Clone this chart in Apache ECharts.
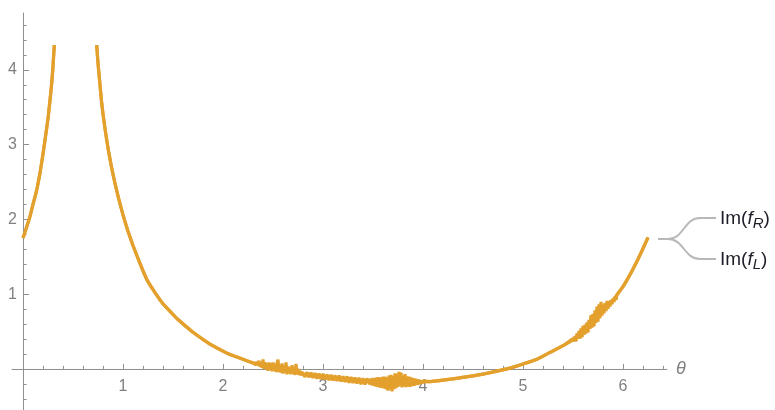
<!DOCTYPE html>
<html><head><meta charset="utf-8">
<script src="https://cdn.jsdelivr.net/npm/echarts@6/dist/echarts.min.js"></script>
<style>html,body{margin:0;padding:0;background:#fff}#c{width:775px;height:410px}</style>
</head><body><div id="c"></div>
<script>
// ---- data ----
const xTicks = [1, 2, 3, 4, 5, 6];
const yTicks = [1, 2, 3, 4];
const xRange = [-0.11, 6.44];
const yRange = [-0.55, 4.76];

// Im(f_R): smooth curve (null = break at the pole)
const thetaR = [0, 0.035, 0.07, 0.10, 0.137, 0.17, 0.195, 0.22, 0.253, 0.287, 0.30, 0.313, 0.525,
  0.737, 0.75, 0.77, 0.785, 0.803, 0.828, 0.853, 0.885, 0.92, 0.96, 1.0, 1.05, 1.1, 1.17, 1.24, 1.32, 1.40, 1.55,
  1.70, 1.87, 2.04, 2.18, 2.30, 2.47, 2.62, 2.77, 3.04, 3.34, 3.6, 3.85, 4.07, 4.37, 4.60, 4.87, 5.0, 5.14, 5.27,
  5.40, 5.50, 5.60, 5.70, 5.80, 5.90, 6.0, 6.07, 6.14, 6.20, 6.25];
const valueR = [1.75, 1.89, 2.04, 2.20, 2.39, 2.62, 2.83, 3.06, 3.38, 3.82, 4.05, 4.33, null,
  4.33, 4.09, 3.80, 3.58, 3.38, 3.14, 2.93, 2.70, 2.48, 2.26, 2.06, 1.84, 1.65, 1.41, 1.19, 1.02, 0.87, 0.66,
  0.49, 0.33, 0.21, 0.14, 0.08, 0.03, -0.015, -0.06, -0.12, -0.16, -0.18, -0.18, -0.17, -0.12, -0.07, 0.01, 0.065, 0.13, 0.22,
  0.31, 0.39, 0.51, 0.64, 0.775, 0.92, 1.10, 1.26, 1.44, 1.61, 1.76];

// Im(f_L): same curve, but numerically noisy in these stretches
const noiseA = [[2.32,0.084],[2.33,0.052],[2.34,0.097],[2.35,0.048],[2.36,0.110],[2.37,0.027],[2.38,0.088],[2.39,0.014],
  [2.40,0.127],[2.41,0.001],[2.42,0.088],[2.43,-0.004],[2.44,0.075],[2.45,-0.025],[2.46,0.087],[2.47,-0.004],[2.48,0.075],
  [2.49,-0.034],[2.50,0.087],[2.51,-0.021],[2.52,0.065],[2.53,-0.043],[2.54,0.078],[2.55,0.123],[2.56,-0.045],[2.57,0.050],
  [2.58,-0.050],[2.59,0.072],[2.60,-0.062],[2.61,0.042],[2.62,-0.050],[2.63,0.088],[2.64,-0.072],[2.65,0.032],[2.66,-0.059],
  [2.67,0.020],[2.68,-0.072],[2.69,0.049],[2.70,-0.059],[2.71,0.011],[2.72,-0.081],[2.73,0.065],[2.74,-0.068],[2.75,0.002],
  [2.76,-0.081],[2.77,-0.028],[2.78,-0.086],[2.79,-0.041],[2.80,-0.073]];
const noiseB = [[2.82,-0.105],[2.84,-0.045],[2.86,-0.112],[2.88,-0.050],[2.90,-0.120],[2.92,-0.055],[2.94,-0.130],[2.96,-0.062],
  [2.98,-0.135],[3.00,-0.066],[3.02,-0.140],[3.04,-0.075],[3.06,-0.150],[3.08,-0.080],[3.10,-0.155],[3.12,-0.088],[3.14,-0.160],
  [3.16,-0.090],[3.18,-0.168],[3.20,-0.098],[3.22,-0.175],[3.24,-0.100],[3.26,-0.185],[3.28,-0.108],[3.30,-0.190],[3.32,-0.115],
  [3.34,-0.195],[3.36,-0.120],[3.38,-0.205],[3.40,-0.125],[3.42,-0.210],[3.44,-0.128]];
const noiseC = [[3.46,-0.125],[3.47,-0.205],[3.48,-0.130],[3.49,-0.220],[3.50,-0.120],[3.51,-0.225],[3.52,-0.125],[3.53,-0.235],
  [3.54,-0.115],[3.55,-0.240],[3.56,-0.110],[3.57,-0.250],[3.58,-0.120],[3.59,-0.255],[3.60,-0.105],[3.61,-0.262],[3.62,-0.105],
  [3.63,-0.270],[3.64,-0.120],[3.65,-0.290],[3.66,-0.090],[3.67,-0.275],[3.68,-0.080],[3.69,-0.300],[3.70,-0.098],[3.71,-0.270],
  [3.72,-0.060],[3.73,-0.258],[3.74,-0.065],[3.75,-0.240],[3.76,-0.040],[3.77,-0.225],[3.78,-0.050],[3.79,-0.248],[3.80,-0.090],
  [3.81,-0.235],[3.82,-0.070],[3.83,-0.245],[3.84,-0.100],[3.85,-0.235],[3.86,-0.105],[3.87,-0.240],[3.88,-0.115],[3.89,-0.230],
  [3.90,-0.125],[3.91,-0.225],[3.92,-0.130],[3.93,-0.215],[3.94,-0.140],[3.95,-0.210],[3.96,-0.145],[3.97,-0.200],[3.98,-0.155],
  [3.99,-0.190],[4.00,-0.160],[4.01,-0.182],[4.02,-0.168]];
const noiseD = [[5.50,0.406],[5.51,0.367],[5.52,0.440],[5.53,0.368],[5.54,0.473],[5.55,0.402],[5.56,0.507],[5.57,0.404],[5.58,0.540],
  [5.59,0.421],[5.60,0.574],[5.61,0.454],[5.62,0.590],[5.63,0.471],[5.64,0.623],[5.65,0.487],[5.66,0.655],[5.67,0.535],[5.68,0.720],
  [5.69,0.552],[5.70,0.736],[5.71,0.568],[5.72,0.784],[5.73,0.615],[5.74,0.832],[5.75,0.631],[5.76,0.863],[5.77,0.679],[5.78,0.895],
  [5.79,0.711],[5.80,0.863],[5.81,0.742],[5.82,0.878],[5.83,0.773],[5.84,0.908],[5.85,0.803],[5.86,0.907],[5.87,0.834],[5.88,0.921],
  [5.89,0.864],[5.90,0.936],[5.91,0.894],[5.92,0.965],[5.93,0.923],[5.94,0.994],[5.95,0.968]];

// ---- build series data ----
const fR = thetaR.map((t, i) => [t, valueR[i]]);
const inNoise = t => (t >= 2.32 && t <= 4.02) || (t >= 5.50 && t <= 5.95);
const fL = fR.filter(p => !inNoise(p[0])).concat(noiseA, noiseB, noiseC, noiseD)
  .sort((a, b) => a[0] - b[0]);

const ORANGE = '#E3A02C';
const AXIS = '#8f8f8f';
const LABEL = '#808080';
const FONT = 'Liberation Sans, Arial, sans-serif';
const TEXT = '#1e1e28';

function legendText(sub, y) {
  return {type: 'text', x: 720, y: y, style: {
    text: '{n|Im(}{i|f}{s|' + sub + '}{n|)}', align: 'left', verticalAlign: 'middle',
    rich: {
      n: {fontSize: 19, fontFamily: FONT, fill: TEXT, lineHeight: 24},
      i: {fontSize: 19, fontFamily: FONT, fontStyle: 'italic', fill: TEXT, lineHeight: 24},
      s: {fontSize: 15, fontFamily: FONT, fontStyle: 'italic', fill: TEXT, lineHeight: 16, verticalAlign: 'bottom'}
    }}};
}

const chart = echarts.init(document.getElementById('c'), null, {renderer: 'canvas'});
chart.setOption({
  animation: false,
  grid: {left: 12, top: 13, width: 655, height: 397, containLabel: false, outerBoundsMode: 'none'},
  xAxis: {
    type: 'value', min: xRange[0], max: xRange[1], splitNumber: 6,
    axisLine: {onZero: true, lineStyle: {color: AXIS, width: 1}},
    axisTick: {inside: true, length: 5, lineStyle: {color: AXIS, width: 1}, customValues: xTicks},
    minorTick: {show: true, splitNumber: 5, length: 3, lineStyle: {color: AXIS, width: 1}},
    axisLabel: {customValues: xTicks, margin: -31, color: LABEL, fontSize: 16, fontFamily: FONT},
    splitLine: {show: false},
    name: 'θ', nameLocation: 'end', nameGap: 9,
    nameTextStyle: {color: LABEL, fontSize: 18, fontStyle: 'italic', fontFamily: FONT}
  },
  yAxis: {
    type: 'value', min: yRange[0], max: yRange[1], splitNumber: 5,
    axisLine: {onZero: true, lineStyle: {color: AXIS, width: 1}},
    axisTick: {inside: true, length: 6, lineStyle: {color: AXIS, width: 1}, customValues: yTicks},
    minorTick: {show: true, splitNumber: 5, length: 3.5, lineStyle: {color: AXIS, width: 1}},
    axisLabel: {customValues: yTicks, margin: -5, color: LABEL, fontSize: 16, fontFamily: FONT},
    splitLine: {show: false}
  },
  series: [
    {name: 'Im(f_L)', type: 'line', data: fL, showSymbol: false, smooth: false, connectNulls: false,
     lineStyle: {color: ORANGE, width: 3.2}, z: 2},
    {name: 'Im(f_R)', type: 'line', data: fR, showSymbol: false, smooth: 0.5, connectNulls: false,
     lineStyle: {color: ORANGE, width: 3.2}, z: 3}
  ],
  graphic: [
    {type: 'line', shape: {x1: 658, y1: 239, x2: 668, y2: 239}, style: {stroke: '#b8b8b8', lineWidth: 2}},
    {type: 'bezierCurve', shape: {x1: 668, y1: 239, cpx1: 684, cpy1: 239, cpx2: 684, cpy2: 218, x2: 700, y2: 218},
     style: {stroke: '#b8b8b8', lineWidth: 2, fill: null}},
    {type: 'line', shape: {x1: 700, y1: 218, x2: 716, y2: 218}, style: {stroke: '#b8b8b8', lineWidth: 2}},
    {type: 'bezierCurve', shape: {x1: 668, y1: 239, cpx1: 684, cpy1: 239, cpx2: 684, cpy2: 259, x2: 700, y2: 259},
     style: {stroke: '#b8b8b8', lineWidth: 2, fill: null}},
    {type: 'line', shape: {x1: 700, y1: 259, x2: 716, y2: 259}, style: {stroke: '#b8b8b8', lineWidth: 2}},
    legendText('R', 219),
    legendText('L', 260)
  ]
});
</script></body></html>
